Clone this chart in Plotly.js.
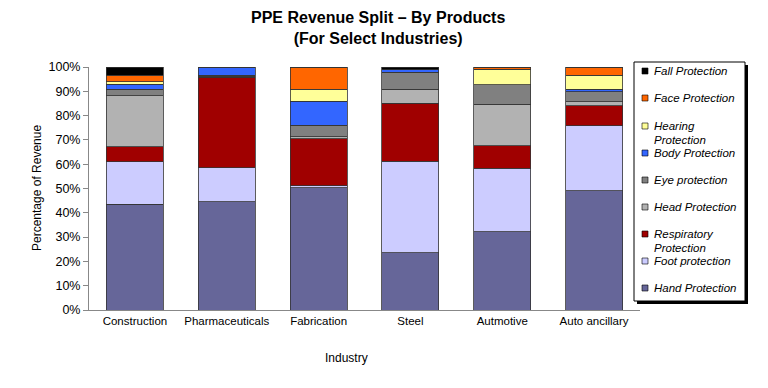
<!DOCTYPE html>
<html>
<head>
<meta charset="utf-8">
<script src="https://cdn.plot.ly/plotly-3.0.1.min.js"></script>
<style>html,body{margin:0;padding:0;background:#fff;}#chart{width:768px;height:388px;}</style>
</head>
<body>
<div id="chart"></div>
<script>
var industries = ["Construction", "Pharmaceuticals", "Fabrication", "Steel", "Autmotive", "Auto ancillary"];

var handProtection        = [43.6, 44.6, 50.3, 23.6, 32.2, 49.0];
var footProtection        = [17.4, 14.0, 0.9, 37.7, 26.1, 26.8];
var respiratoryProtection = [6.2, 37.1, 19.2, 23.7, 9.2, 8.2];
var headProtection        = [20.9, 0.5, 1.0, 5.8, 17.1, 1.7];
var eyeProtection         = [2.7, 0.5, 4.7, 7.0, 8.0, 4.1];
var bodyProtection        = [2.2, 3.3, 9.9, 1.0, 0, 1.0];
var hearingProtection     = [1.0, 0, 4.8, 0, 6.4, 5.9];
var faceProtection        = [2.7, 0, 9.2, 0, 1.0, 3.3];
var fallProtection        = [3.3, 0, 0, 1.2, 0, 0];

var seriesNames = ["Hand Protection", "Foot protection", "Respiratory Protection", "Head Protection",
                   "Eye protection", "Body Protection", "Hearing Protection", "Face Protection", "Fall Protection"];
var seriesValues = [handProtection, footProtection, respiratoryProtection, headProtection,
                    eyeProtection, bodyProtection, hearingProtection, faceProtection, fallProtection];
var seriesColors = ["#666699", "#CCCCFF", "#A00000", "#B2B2B2", "#808080", "#3366FF", "#FFFF99", "#FF6600", "#000000"];

var traces = seriesNames.map(function (n, i) {
  return {
    type: "bar",
    name: n,
    x: industries,
    y: seriesValues[i],
    marker: {color: seriesColors[i], line: {color: "#333333", width: 0.8}},
    showlegend: false
  };
});

// Manual legend (Excel-style box)
var W = 768, H = 388, mL = 89, mR = 128, mT = 67, mB = 78;
var pw = W - mL - mR, ph = H - mT - mB;
function px2x(px) { return (px - mL) / pw; }
function py2y(py) { return 1 - (py - mT) / ph; }

var shapes = [
  {type: "rect", xref: "paper", yref: "paper", x0: px2x(637), x1: px2x(748), y0: py2y(65), y1: py2y(304),
   fillcolor: "#000000", line: {width: 0}, layer: "above"},
  {type: "rect", xref: "paper", yref: "paper", x0: px2x(634), x1: px2x(745), y0: py2y(62), y1: py2y(301),
   fillcolor: "#ffffff", line: {color: "#000000", width: 1}, layer: "above"}
];
var annotations = [];
var itemY = [71, 98, 126, 153, 180, 207, 234, 261, 288];
var order = seriesNames.map(function (_, i) { return seriesNames.length - 1 - i; });
order.forEach(function (si, k) {
  var cy = itemY[k];
  shapes.push({type: "rect", xref: "paper", yref: "paper",
    x0: px2x(642), x1: px2x(648), y0: py2y(cy - 3), y1: py2y(cy + 3),
    fillcolor: seriesColors[si], line: {color: "#000000", width: 0.6}, layer: "above"});
  var name = seriesNames[si];
  var lines = name.length >= 18 ? [name.substring(0, name.indexOf(" ")), name.substring(name.indexOf(" ") + 1)] : [name];
  lines.forEach(function (ln, j) {
    annotations.push({xref: "paper", yref: "paper", x: px2x(652), y: py2y(cy + j * 13.8),
      xanchor: "left", yanchor: "middle", showarrow: false, text: "<i>" + ln + "</i>",
      font: {family: "Liberation Sans, Arial, sans-serif", size: 11.5, color: "#000"}});
  });
});

annotations.push({xref: "paper", yref: "paper", x: px2x(346), y: py2y(358), xanchor: "center", yanchor: "middle",
  showarrow: false, text: "Industry", font: {family: "Liberation Sans, Arial, sans-serif", size: 12, color: "#000"}});
annotations.push({xref: "paper", yref: "paper", x: px2x(37), y: py2y(188), xanchor: "center", yanchor: "middle",
  showarrow: false, textangle: -90, text: "Percentage of Revenue",
  font: {family: "Liberation Sans, Arial, sans-serif", size: 12, color: "#000"}});
annotations.push({xref: "paper", yref: "paper", x: px2x(378), y: py2y(28), xanchor: "center", yanchor: "middle",
  showarrow: false, text: "<b>PPE Revenue Split \u2013 By Products<br>(For Select Industries)</b>",
  font: {family: "Liberation Sans, Arial, sans-serif", size: 16, color: "#000"}});

var layout = {
  width: W, height: H,
  margin: {l: mL, r: mR, t: mT, b: mB, pad: 0},
  paper_bgcolor: "#ffffff", plot_bgcolor: "#ffffff",
  barmode: "stack", bargap: 0.38,
  font: {family: "Liberation Sans, Arial, sans-serif", size: 11, color: "#000"},
  xaxis: {type: "category", showgrid: false, showline: true, linecolor: "#888888", linewidth: 1,
          ticks: "", tickfont: {size: 11.5, color: "#000"}, zeroline: false, fixedrange: true},
  yaxis: {range: [0, 100], dtick: 10, ticksuffix: "%", showgrid: false, showline: true,
          linecolor: "#888888", linewidth: 1, ticks: "outside", ticklen: 5, tickcolor: "#888888",
          tickfont: {size: 12.5, color: "#000"}, zeroline: false, fixedrange: true},
  showlegend: false,
  shapes: shapes,
  annotations: annotations
};

Plotly.newPlot("chart", traces, layout, {displayModeBar: false, staticPlot: true});
</script>
</body>
</html>
